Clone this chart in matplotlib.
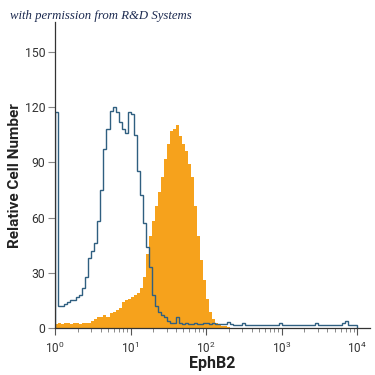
#!/usr/bin/env python3
"""
Flow cytometry overlay histogram: EphB2 staining vs. isotype control.
Saves out.png (375x375).
"""

import numpy as np
import matplotlib
matplotlib.use("Agg")
import matplotlib.pyplot as plt
from matplotlib.ticker import LogLocator, NullFormatter, FixedLocator

# bin edges in decades (log10 of fluorescence), 0.04 decade per bin
decade_edges = np.linspace(0.0, 4.0, 101)

# isotype control (blue outline), one value per bin
control_counts = [
    117, 12, 12, 13, 14, 15, 15, 17, 18, 22,
    28, 38, 42, 46, 58, 75, 97, 108, 118, 120,
    117, 112, 108, 106, 117, 116, 105, 85, 72, 57,
    44, 33, 18, 12, 9, 7, 6, 4, 3, 3,
    6, 3, 2.5, 3, 2.5, 2.5, 3, 2.5, 2, 3,
    3, 2.5, 3, 2.5, 2, 2, 2, 3.5, 2, 1.5,
    1.5, 1.5, 3, 1.5, 1.5, 1.5, 1.5, 1.5, 1.5, 1.5,
    1.5, 1.5, 1.5, 1.5, 3, 1.5, 1.5, 1.5, 1.5, 1.5,
    1.5, 1.5, 1.5, 1.5, 1.5, 1.5, 3, 1.5, 1.5, 1.5,
    1.5, 1.5, 1.5, 1.5, 1.5, 3, 4, 1.5, 1.5, 1.5,
]

# EphB2 stained cells (orange filled)
stained_counts = [
    2, 3, 2, 3, 3, 2, 3, 3, 2, 3,
    3, 3, 4, 5, 6, 6, 7, 6, 8, 9,
    10, 11, 14, 15, 16, 17, 18, 19, 22, 28,
    40, 50, 58, 66, 74, 82, 92, 100, 107, 108,
    110, 104, 100, 96, 89, 82, 66, 50, 37, 26,
    16, 9, 5, 3, 2, 1, 1, 0.5, 0, 0,
] + [0] * 40

y_ticks = [0, 30, 60, 90, 120, 150]
x_decades = [0, 1, 2, 3, 4]

plt.rcParams["font.family"] = ["Roboto", "DejaVu Sans"]


def main():
    fig = plt.figure(figsize=(3.75, 3.75), dpi=100)
    ax = fig.add_axes([0.147, 0.125, 0.84, 0.816])

    edges = 10.0 ** decade_edges
    ax.stairs(stained_counts, edges, fill=True, color="#f6a21c", linewidth=0)
    ax.stairs(control_counts, edges, fill=False, color="#2f5f80", linewidth=1.0)

    ax.set_xscale("log")
    ax.set_xlim(1, 10 ** 4.17)
    ax.set_ylim(0, 166)

    # only left/bottom spines, like the original export
    for side in ("top", "right"):
        ax.spines[side].set_visible(False)
    for side in ("left", "bottom"):
        ax.spines[side].set_color("#333333")
        ax.spines[side].set_linewidth(0.9)

    ax.yaxis.set_major_locator(FixedLocator(y_ticks))
    ax.set_yticklabels([str(v) for v in y_ticks], fontsize=8.8, color="#333333")
    ax.xaxis.set_major_locator(FixedLocator([10.0 ** d for d in x_decades]))
    ax.set_xticklabels([r"$\mathregular{10^{%d}}$" % d for d in x_decades],
                       fontsize=8.5, color="#333333")
    ax.xaxis.set_minor_locator(LogLocator(base=10, subs=np.arange(2, 10)))
    ax.xaxis.set_minor_formatter(NullFormatter())
    ax.tick_params(axis="y", direction="out", length=5, width=0.8, color="#888888", pad=2)
    ax.tick_params(axis="x", which="major", direction="out", length=5, width=0.8, color="#555555", pad=4)
    ax.tick_params(axis="x", which="minor", direction="out", length=3, width=0.6, color="#777777")

    ax.set_ylabel("Relative Cell Number", fontsize=11, fontweight="bold", color="#222222")
    ax.yaxis.set_label_coords(-0.105, 0.5)
    ax.set_xlabel("EphB2", fontsize=11.5, fontweight="bold", color="#222222")
    ax.xaxis.set_label_coords(0.5, -0.09)

    fig.text(0.027, 0.95, "with permission from R&D Systems", family=["Liberation Serif", "DejaVu Serif"],
             style="italic", fontsize=9.2, color="#1c2a50", va="baseline")

    fig.savefig("out.png", dpi=100)
    plt.close(fig)


if __name__ == "__main__":
    main()
